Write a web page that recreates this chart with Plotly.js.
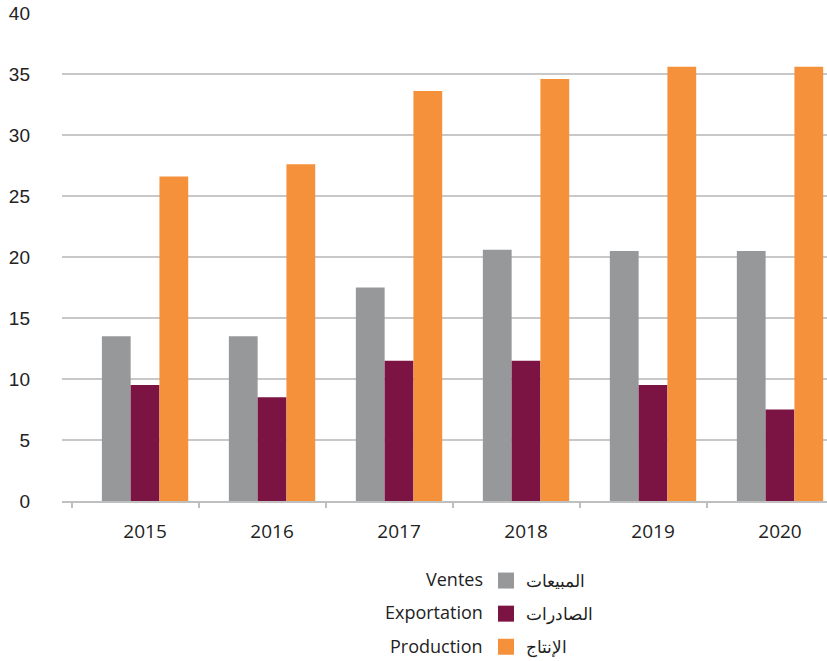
<!DOCTYPE html>
<html>
<head>
<meta charset="utf-8">
<script src="https://cdn.plot.ly/plotly-3.0.1.min.js"></script>
<style>
  html, body { margin: 0; padding: 0; background: #fff; }
  #chart { width: 827px; height: 661px; }
</style>
</head>
<body>
<div id="chart"></div>
<script>
// données
const annees = ['2015', '2016', '2017', '2018', '2019', '2020'];
const ventes = [13.5, 13.5, 17.5, 20.6, 20.5, 20.5];
const exportation = [9.5, 8.5, 11.5, 11.5, 9.5, 7.5];
const production = [26.6, 27.6, 33.6, 34.6, 35.6, 35.6];

const nomsArabes = ['المبيعات', 'الصادرات', 'الإنتاج'];
const nomsFrancais = ['Ventes', 'Exportation', 'Production'];
const couleurs = ['#97989a', '#7b1442', '#f5913a'];

const positions = annees.map((a, i) => i);
const bords = annees.map((a, i) => i - 0.575);

const series = [ventes, exportation, production];

const data = [];
series.forEach((vals, k) => {
    data.push({
        type: 'bar',
        x: positions,
        y: vals,
        marker: { color: couleurs[k] },
        showlegend: false,
        hoverinfo: 'y'
    });
});
// entrées de légende (carrés)
series.forEach((vals, k) => {
    data.push({
        type: 'scatter',
        mode: 'markers',
        x: [null],
        y: [null],
        name: nomsArabes[k],
        legendgroup: 'g' + k,
        marker: { symbol: 'square', size: 16, color: couleurs[k] }
    });
});

const plotH = 488;
const plotW = 765;
const pyToPaper = py => (501 - py) / plotH;
const pxToPaper = px => (px - 62) / plotW;

const annotations = nomsFrancais.map((t, k) => ({
    xref: 'paper', yref: 'paper',
    x: pxToPaper(485), y: pyToPaper([579, 612, 646][k]),
    xanchor: 'right', yanchor: 'middle',
    text: t, showarrow: false,
    font: { family: 'Open Sans, Noto Sans, sans-serif', size: 18, color: '#222' }
}));

const layout = {
    width: 827,
    height: 661,
    margin: { l: 62, r: 0, t: 13, b: 160, autoexpand: false },
    paper_bgcolor: '#fff',
    plot_bgcolor: '#fff',
    barmode: 'group',
    bargap: 0.32,
    bargroupgap: 0,
    font: { family: 'Open Sans, Noto Sans, sans-serif', color: '#222' },
    xaxis: {
        range: [-0.654, 5.37],
        tickvals: positions,
        ticktext: annees,
        ticks: '',
        showgrid: false,
        zeroline: false,
        showline: true,
        linecolor: '#bfbfbf',
        linewidth: 1.5,
        ticklabelstandoff: 13,
        tickfont: { size: 19, color: '#222' }
    },
    xaxis2: {
        overlaying: 'x',
        matches: 'x',
        side: 'bottom',
        tickvals: bords,
        ticks: 'outside',
        ticklen: 6,
        tickwidth: 1.5,
        tickcolor: '#bfbfbf',
        showticklabels: false,
        showgrid: false,
        zeroline: false
    },
    yaxis: {
        range: [0, 40],
        dtick: 5,
        showgrid: true,
        gridcolor: '#c8c8c8',
        gridwidth: 1.5,
        zeroline: false,
        ticks: '',
        ticklabelstandoff: 31,
        tickfont: { family: 'Liberation Sans Narrow, Liberation Sans, sans-serif', size: 19, color: '#222' }
    },
    legend: {
        x: pxToPaper(486),
        y: pyToPaper(563),
        xanchor: 'left',
        yanchor: 'top',
        tracegroupgap: 8,
        font: { family: 'Noto Sans, Open Sans, sans-serif', size: 17, color: '#222' },
        bgcolor: 'rgba(0,0,0,0)'
    },
    annotations: annotations
};

// trace invisible pour porter les graduations de xaxis2
data.push({
    type: 'scatter', x: positions, y: ventes, xaxis: 'x2',
    mode: 'markers', marker: { opacity: 0 }, showlegend: false, hoverinfo: 'skip'
});

Plotly.newPlot('chart', data, layout, { displayModeBar: false, staticPlot: true });
</script>
</body>
</html>
